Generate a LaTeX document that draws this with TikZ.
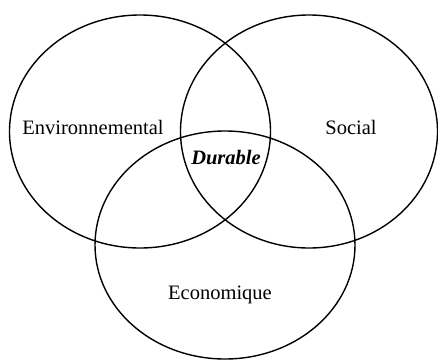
\documentclass[tikz,border=0pt]{standalone}
\usepackage{fontspec}
\setmainfont{Liberation Serif}
\begin{document}
\begin{tikzpicture}[x=1pt,y=-1pt,
  ring/.style={draw=black,line width=1.4pt},
  lbl/.style={font=\fontsize{20.5}{24}\selectfont,inner sep=0pt}]
\useasboundingbox (0,0) rectangle (438,359);
\draw[ring] (140,131.5) ellipse [x radius=130.5, y radius=116.5];
\draw[ring] (309,131.5) ellipse [x radius=128.5, y radius=116.5];
\draw[ring] (225,245) ellipse [x radius=130, y radius=114];
\node[lbl] (env) at (93,127) {Environnemental};
\node[lbl] (soc) at (351,127) {Social};
\node[lbl] (dur) at (226,158) {\textbf{\textit{Durable}}};
\node[lbl] (eco) at (220,295) {Economique};
\end{tikzpicture}
\end{document}
